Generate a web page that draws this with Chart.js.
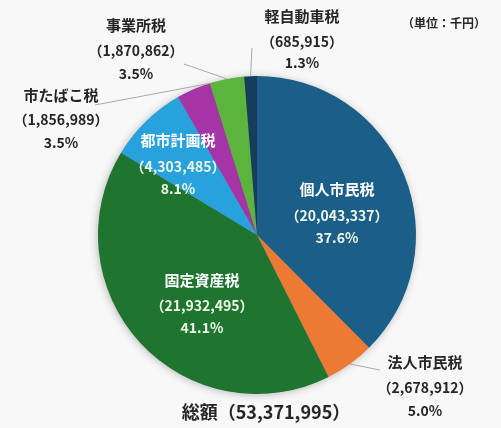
<!DOCTYPE html>
<html>
<head>
<meta charset="utf-8">
<script src="https://cdn.jsdelivr.net/npm/chart.js@4.4.0/dist/chart.umd.min.js"></script>
<style>
  html, body { margin: 0; padding: 0; background: #f8f8f8; }
  #wrap { width: 501px; height: 428px; position: relative; }
</style>
</head>
<body>
<div id="wrap"><canvas id="c"></canvas></div>
<script>
const categories = ['個人市民税', '法人市民税', '固定資産税', '都市計画税', '市たばこ税', '事業所税', '軽自動車税'];
const values = [20043337, 2678912, 21932495, 4303485, 1856989, 1870862, 685915];
const colors = ['#1b5f88', '#ec7a34', '#1f7530', '#27a2dc', '#a535a6', '#5bb43c', '#143e5a'];
const totalLabel = '総額';
const unitLabel = '（単位：千円）';

const total = values.reduce((a, b) => a + b, 0);
const fmt = n => n.toLocaleString('en-US');

// label layout: [x, nameY, valueY, pctY, inside, leaderT, leaderEndX, leaderEndY]
const labelLayout = [
  { x: 337, y: [189, 216, 238], inside: true },
  { x: 425, y: [362, 388, 411], inside: false, t: 0.5, end: [380, 370] },
  { x: 202, y: [280, 306, 328], inside: true },
  { x: 178, y: [140, 167, 189], inside: true },
  { x: 61,  y: [95, 120, 143], inside: false, t: 0.95, end: [95, 105] },
  { x: 136, y: [25, 51, 74], inside: false, t: 0.5, end: [184, 64] },
  { x: 302, y: [16, 42, 63], inside: false, t: 0.5, end: [252, 48] }
];

const FONT = '"Noto Sans CJK JP", "Noto Sans", sans-serif';

const shadowPlugin = {
  id: 'shadow',
  beforeDatasetsDraw(chart) {
    const arc = chart.getDatasetMeta(0).data[0];
    if (!arc) return;
    const ctx = chart.ctx;
    ctx.save();
    ctx.shadowColor = 'rgba(0,0,0,0.28)';
    ctx.shadowBlur = 8;
    ctx.shadowOffsetX = -1;
    ctx.shadowOffsetY = 1;
    ctx.fillStyle = '#888';
    ctx.beginPath();
    ctx.arc(arc.x, arc.y, arc.outerRadius - 0.5, 0, Math.PI * 2);
    ctx.fill();
    ctx.restore();
  }
};

const labelPlugin = {
  id: 'labels',
  afterDatasetsDraw(chart) {
    const ctx = chart.ctx;
    const arcs = chart.getDatasetMeta(0).data;
    ctx.save();
    ctx.textAlign = 'center';
    ctx.textBaseline = 'middle';
    arcs.forEach((arc, i) => {
      const L = labelLayout[i];
      if (!L.inside) {
        const a = arc.startAngle + L.t * (arc.endAngle - arc.startAngle);
        const px = arc.x + arc.outerRadius * Math.cos(a);
        const py = arc.y + arc.outerRadius * Math.sin(a);
        ctx.strokeStyle = '#a9a9a9';
        ctx.lineWidth = 1;
        ctx.beginPath();
        ctx.moveTo(px, py);
        ctx.lineTo(L.end[0], L.end[1]);
        ctx.stroke();
      }
      const col = L.inside ? '#ffffff' : '#262626';
      const col2 = L.inside ? '#eef6e4' : '#262626';
      ctx.fillStyle = col;
      ctx.font = 'bold 15px ' + FONT;
      ctx.fillText(categories[i], L.x, L.y[0]);
      ctx.fillStyle = col2;
      ctx.font = 'bold 14px ' + FONT;
      ctx.fillText('（' + fmt(values[i]) + '）', L.x, L.y[1]);
      ctx.fillText((values[i] / total * 100).toFixed(1) + '%', L.x, L.y[2]);
    });
    ctx.fillStyle = '#262626';
    ctx.font = 'bold 18px ' + FONT;
    ctx.fillText(totalLabel + '（' + fmt(total) + '）', 266, 412);
    ctx.font = 'bold 12px ' + FONT;
    ctx.fillText(unitLabel, 444, 23);
    ctx.restore();
  }
};

new Chart(document.getElementById('c'), {
  type: 'pie',
  data: {
    labels: categories,
    datasets: [{
      data: values,
      backgroundColor: colors,
      borderWidth: 0
    }]
  },
  options: {
    responsive: true,
    maintainAspectRatio: false,
    animation: false,
    layout: { padding: { top: 76, bottom: 34, left: 98, right: 85 } },
    plugins: {
      legend: { display: false },
      tooltip: { enabled: false }
    }
  },
  plugins: [shadowPlugin, labelPlugin]
});
</script>
</body>
</html>
